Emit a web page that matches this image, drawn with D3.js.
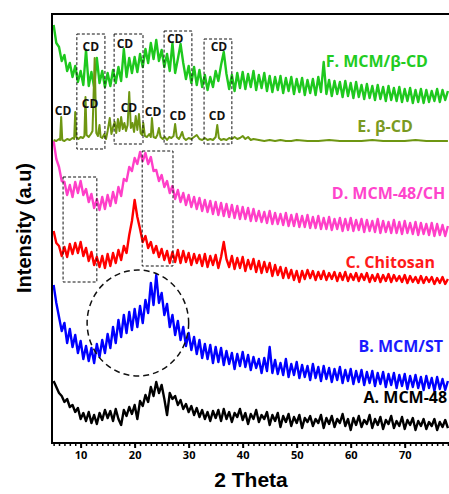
<!DOCTYPE html>
<html>
<head>
<meta charset="utf-8">
<script src="https://cdn.jsdelivr.net/npm/d3@7"></script>
<style>
  body { margin: 0; background: #fff; }
  svg { display: block; }
</style>
</head>
<body>
<div id="chart"></div>
<script>
// 2 theta grid shared by the noisy patterns (every 0.5 deg from 5 to 78)
const thetaStart = 5;
const thetaStep = 0.5;

// intensities (a.u., already stacked)
const mcm48 = [
  62,56,50,47,41,44,36,38,31,35,
  24,30,22,31,20,28,19,30,23,33,
  25,32,22,34,24,18,33,27,36,29,
  38,24,42,37,48,41,56,47,61,50,
  58,44,28,50,44,47,38,43,34,39,
  31,37,28,35,26,33,24,31,22,32,
  25,33,22,34,24,31,21,30,26,34,
  23,30,19,29,24,33,21,28,24,31,
  18,28,22,30,16,27,21,29,17,26,
  20,28,15,25,21,27,17,24,20,28,
  15,25,19,27,16,24,20,29,17,24,
  13,25,18,27,16,23,19,28,15,24,
  18,26,14,23,19,27,15,22,17,26,
  14,23,18,25,13,22,17,24,14,21,
  17,24,13,21,16,23,15
];
const mcmSt = [
  158,140,126,112,120,100,114,96,108,90,
  102,84,97,82,95,80,99,86,103,90,
  109,95,116,100,123,106,128,110,131,113,
  134,116,137,120,143,130,160,138,168,140,
  150,128,139,116,128,108,122,103,116,97,
  110,93,106,89,103,85,99,84,98,80,
  96,81,95,78,92,79,90,74,89,77,
  91,76,88,73,86,75,84,70,85,72,
  96,70,83,69,80,68,84,66,79,68,
  81,65,78,66,77,63,79,65,76,62,
  77,64,75,61,74,63,76,60,73,62,
  74,59,72,61,73,58,71,60,72,57,
  70,59,71,56,69,58,70,55,68,57,
  69,54,67,56,68,55,66,53,67,55,
  65,52,66,54,64,53,62
];
const chitosan = [
  212,200,197,187,196,186,199,189,200,190,
  201,187,195,182,191,178,186,176,187,175,
  189,177,190,180,193,183,197,190,208,222,
  243,226,214,201,207,195,201,190,197,186,
  194,183,192,180,191,181,193,180,192,181,
  190,178,189,180,188,177,189,176,187,178,
  188,175,186,201,184,176,187,174,185,175,
  186,172,183,174,184,171,182,170,181,171,
  180,167,178,168,176,165,175,165,173,163,
  172,161,172,164,173,165,172,163,171,164,
  172,163,170,164,171,162,170,163,171,162,
  169,163,170,162,169,163,170,161,168,162,
  169,161,168,162,169,161,168,162,167,161,
  168,160,167,161,166,160,167,160,166,161,
  166,159,165,160,166,159,164
];
const mcmCh = [
  302,284,276,262,261,248,258,246,261,250,
  262,248,254,241,249,235,244,233,246,234,
  248,237,251,240,256,247,264,262,276,272,
  285,279,291,282,290,279,286,272,273,262,
  268,256,262,250,257,244,253,241,250,238,
  248,236,246,234,245,232,243,231,242,229,
  241,228,240,227,239,226,238,225,237,224,
  236,224,235,222,234,222,232,221,231,220,
  232,219,230,219,229,218,230,217,228,217,
  229,216,227,216,228,215,226,215,227,214,
  225,214,226,213,224,214,225,212,224,213,
  225,212,223,213,224,211,223,212,222,211,
  224,210,222,211,221,210,223,210,221,209,
  222,210,220,209,221,208,220,209,219,208,
  220,207,219,208,218,207,217
];
const mcmCd = [
  418,400,396,382,388,372,380,366,377,361,
  372,358,393,357,371,356,385,360,372,356,
  370,357,373,360,376,362,394,366,385,370,
  386,371,389,376,394,380,400,384,403,382,
  393,376,389,372,400,370,384,399,380,364,
  377,360,376,358,373,356,368,353,366,356,
  372,362,378,391,369,354,368,352,370,355,
  371,354,369,356,372,353,368,355,370,352,
  367,351,366,353,367,350,365,352,366,349,
  364,351,365,348,363,350,364,348,366,351,
  381,349,363,347,362,349,361,346,362,347,
  360,345,361,346,358,344,359,345,357,343,
  358,344,356,342,357,343,355,342,356,341,
  354,342,355,340,353,341,354,340,353,341,
  352,342,354,341,353,343,352
];

// beta-CD is crystalline: sharp peaks, sampled at its own angles
const bcdTheta = [
  5.0,5.5,6.0,6.2,6.4,6.6,7.0,7.5,8.0,8.5,
  8.8,9.0,9.2,9.6,10.0,10.4,10.7,10.9,11.1,11.5,
  11.9,12.2,12.6,12.9,13.2,13.5,13.7,14.0,14.4,14.7,
  15.0,15.4,15.7,16.0,16.3,16.6,16.9,17.2,17.5,17.8,
  18.1,18.4,18.7,19.0,19.3,19.6,19.9,20.2,20.5,20.8,
  21.1,21.4,21.6,21.9,22.3,22.7,23.0,23.2,23.5,23.9,
  24.2,24.5,24.8,25.2,25.6,26.0,26.4,26.8,27.2,27.5,
  27.8,28.2,28.5,28.8,29.1,29.5,30.0,30.5,31.0,31.5,
  32.0,32.5,33.0,33.5,34.0,34.5,35.0,35.3,35.6,36.0,
  36.5,37.0,37.5,38.0,38.5,39.0,39.5,40.0,40.5,41.0,
  41.5,42,43,44,45,46,47,48,49,50,
  52,54,56,58,60,62,64,66,68,70,
  72,74,76,78
];
const bcdInt = [
  303,302,304,303,326,303,302,304,303,305,
  304,331,306,304,306,305,307,346,308,306,
  309,312,385,310,307,318,306,305,309,304,
  312,325,309,316,321,310,324,312,326,314,
  320,312,318,351,315,320,311,327,313,329,
  310,308,320,307,306,309,306,325,306,305,
  308,315,306,304,306,303,306,305,307,319,
  306,304,307,311,305,303,305,304,306,308,
  304,303,305,303,304,303,306,318,305,303,
  304,303,305,304,306,304,305,307,304,306,
  303,304,303,302,303,302,303,302,302,303,
  302,302,303,302,302,302,303,302,302,302,
  303,302,302,302
];

const seriesNames = ['A. MCM-48', 'B. MCM/ST', 'C. Chitosan', 'D. MCM-48/CH', 'E. \u03b2-CD', 'F. MCM/\u03b2-CD'];
const seriesColors = ['#000000', '#0000ff', '#ff0000', '#ff3fc8', '#6e9612', '#1ec81e'];
const labelColors  = ['#000000', '#1a1aff', '#ff1a1a', '#ff44cc', '#7a9a22', '#22cc22'];
// label anchor (right end) in data units
const labelTheta = [77.85, 77.1, 75.6, 77.5, 71.5, 74.3];
const labelInt   = [46, 97, 181, 250, 317, 382];

const xTicks = [10, 20, 30, 40, 50, 60, 70];

// dashed annotation boxes [theta0, theta1, int0, int1]
const boxes = [
  [9.3, 14.5, 294, 409],
  [16.2, 21.55, 299, 409],
  [25.45, 30.6, 299, 412],
  [32.85, 38.0, 299, 404],
  [6.75, 13.0, 161, 266],
  [21.4, 27.1, 177, 292]
];
// "CD" marks [theta, int]
const cdMarks = [
  [11.9, 397], [18.2, 400], [27.5, 405], [35.6, 397],
  [6.75, 333], [11.75, 340], [18.95, 336], [23.4, 332], [28.0, 328], [35.25, 328]
];
// dashed ellipse round the starch hump [theta, int, rTheta, rInt]
const starchRing = [20.6, 120, 9.4, 53];

const width = 449, height = 494;
const margin = { top: 14, right: 0, bottom: 51, left: 52 };

const x = d3.scaleLinear().domain([4.7, 78.2]).range([margin.left, width - margin.right]);
const y = d3.scaleLinear().domain([0, 430]).range([height - margin.bottom, margin.top - 1]);

const svg = d3.select('#chart').append('svg')
    .attr('width', width)
    .attr('height', height);

svg.append('clipPath').attr('id', 'plot-clip')
  .append('rect')
    .attr('x', margin.left).attr('y', margin.top)
    .attr('width', width - margin.left - margin.right)
    .attr('height', height - margin.top - margin.bottom);

const line = d3.line()
    .x(d => x(d[0]))
    .y(d => y(d[1]));

const gridSeries = [mcm48, mcmSt, chitosan, mcmCh, null, mcmCd];
const plot = svg.append('g').attr('clip-path', 'url(#plot-clip)');

// draw A-D and F on the regular grid, then E with its own angles on top
[0, 1, 2, 3, 5, 4].forEach(i => {
  let pts;
  if (i === 4) pts = bcdTheta.map((t, j) => [t, bcdInt[j]]);
  else pts = gridSeries[i].map((v, j) => [thetaStart + j * thetaStep, v]);
  plot.append('path').datum(pts)
      .attr('fill', 'none')
      .attr('stroke', seriesColors[i])
      .attr('stroke-width', i === 4 ? 2 : 2.4)
      .attr('stroke-linejoin', 'round')
      .attr('d', line);
});

// annotations
svg.append('g').selectAll('rect')
  .data(boxes)
  .join('rect')
    .attr('x', d => x(d[0]))
    .attr('y', d => y(d[3]))
    .attr('width', d => x(d[1]) - x(d[0]))
    .attr('height', d => y(d[2]) - y(d[3]))
    .attr('fill', 'none')
    .attr('stroke', '#111')
    .attr('stroke-width', 1)
    .attr('stroke-dasharray', '3,2');

svg.append('ellipse')
    .attr('cx', x(starchRing[0]))
    .attr('cy', y(starchRing[1]))
    .attr('rx', x(starchRing[0] + starchRing[2]) - x(starchRing[0]))
    .attr('ry', y(0) - y(starchRing[3]))
    .attr('fill', 'none')
    .attr('stroke', '#111')
    .attr('stroke-width', 1.5)
    .attr('stroke-dasharray', '6,4');

svg.append('g').selectAll('text')
  .data(cdMarks)
  .join('text')
    .attr('x', d => x(d[0]))
    .attr('y', d => y(d[1]))
    .attr('text-anchor', 'middle')
    .attr('dominant-baseline', 'central')
    .style('font-family', '"Open Sans", sans-serif')
    .style('font-weight', 'bold')
    .style('font-size', '12px')
    .attr('fill', '#111')
    .text('CD');

svg.append('g').selectAll('text')
  .data(seriesNames)
  .join('text')
    .attr('x', (d, i) => x(labelTheta[i]))
    .attr('y', (d, i) => y(labelInt[i]))
    .attr('text-anchor', 'end')
    .attr('dominant-baseline', 'central')
    .style('font-family', '"Open Sans", sans-serif')
    .style('font-weight', 'bold')
    .style('font-size', '16px')
    .attr('fill', (d, i) => labelColors[i])
    .text(d => d);

// frame: left, top and bottom
const [x0, x1] = x.range();
const yb = height - margin.bottom, yt = margin.top;
svg.append('path')
    .attr('d', `M${x1},${yt}H${x0}V${yb}H${x1}`)
    .attr('fill', 'none')
    .attr('stroke', '#000')
    .attr('stroke-width', 2);

// x axis: minor ticks every degree, major every 10
svg.append('g')
    .attr('transform', `translate(0,${yb})`)
    .call(d3.axisBottom(x).tickValues(d3.range(5, 79)).tickSize(3).tickFormat(''))
    .call(g => g.select('.domain').remove())
    .call(g => g.selectAll('line').attr('stroke-width', 1.5));

svg.append('g')
    .attr('transform', `translate(0,${yb})`)
    .call(d3.axisBottom(x).tickValues(xTicks).tickSize(5).tickPadding(3).tickFormat(d3.format('d')))
    .call(g => g.select('.domain').remove())
    .call(g => g.selectAll('line').attr('stroke-width', 2))
    .call(g => g.selectAll('text')
        .style('font-family', '"Open Sans", sans-serif')
        .style('font-weight', 'bold')
        .style('font-size', '11px')
        .attr('fill', '#000'));

svg.append('text')
    .attr('x', 251)
    .attr('y', 487)
    .attr('text-anchor', 'middle')
    .style('font-family', '"Liberation Sans", Arial, sans-serif')
    .style('font-weight', 'bold')
    .style('font-size', '21px')
    .text('2 Theta');

svg.append('text')
    .attr('transform', 'translate(31,228) rotate(-90)')
    .attr('text-anchor', 'middle')
    .style('font-family', '"Liberation Sans", Arial, sans-serif')
    .style('font-weight', 'bold')
    .style('font-size', '20px')
    .text('Intensity (a.u)');
</script>
</body>
</html>
